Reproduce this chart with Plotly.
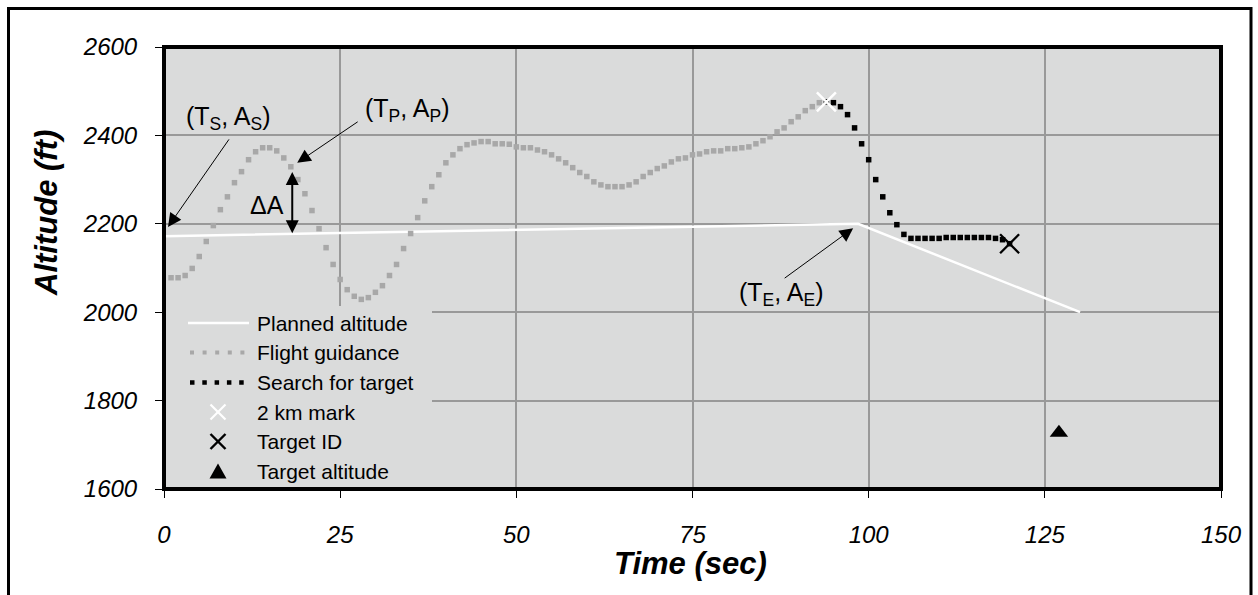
import plotly.graph_objects as go

# ---------------- data ----------------
t_guidance = list(range(1, 95))
alt_guidance = [
    2078, 2078, 2083, 2099, 2126, 2160, 2196, 2232, 2261, 2293,
    2318, 2345, 2363, 2372, 2372, 2365, 2349, 2329, 2300, 2268,
    2230, 2189, 2146, 2108, 2074, 2051, 2036, 2029, 2033, 2045,
    2060, 2083, 2108, 2144, 2178, 2214, 2252, 2284, 2311, 2338,
    2356, 2370, 2379, 2383, 2386, 2386, 2381, 2381, 2380, 2374,
    2372, 2372, 2367, 2363, 2356, 2347, 2338, 2327, 2316, 2307,
    2295, 2288, 2284, 2284, 2284, 2288, 2295, 2307, 2316, 2325,
    2331, 2340, 2347, 2349, 2356, 2358, 2363, 2365, 2365, 2370,
    2370, 2372, 2374, 2381, 2388, 2397, 2408, 2417, 2431, 2442,
    2456, 2465, 2474, 2476,
]
t_search = list(range(94, 121))
alt_search = [
    2476, 2474, 2465, 2447, 2417, 2381, 2345, 2300, 2261, 2225,
    2198, 2176, 2167, 2167, 2167, 2167, 2167, 2169, 2169, 2169,
    2169, 2169, 2169, 2169, 2167, 2164, 2155,
]
t_planned = [0, 98.5, 130]
alt_planned = [2172, 2200, 2000]
t_2km, alt_2km = [94], [2476]
t_target_id, alt_target_id = [120], [2155]
t_target_alt, alt_target_alt = [127], [1727]

x_ticks = [0, 25, 50, 75, 100, 125, 150]
y_ticks = [1600, 1800, 2000, 2200, 2400, 2600]

legend_labels = ["Planned altitude", "Flight guidance", "Search for target",
                 "2 km mark", "Target ID", "Target altitude"]

# ---------------- layout geometry ----------------
W, H = 1258, 595
L, R, T, B = 164, 1221, 47, 489
PW, PH = R - L, B - T


def px(x):
    return (x - L) / PW


def py(y):
    return (B - y) / PH


FONT = "Liberation Sans"

fig = go.Figure()

fig.add_trace(go.Scatter(x=t_planned, y=alt_planned, mode="lines",
                         line=dict(color="white", width=2.5),
                         name=legend_labels[0], showlegend=False))
fig.add_trace(go.Scatter(x=t_guidance, y=alt_guidance, mode="markers",
                         marker=dict(symbol="square", size=5.5, color="#a8a8a8",
                                     line=dict(width=0)),
                         name=legend_labels[1], showlegend=False))
fig.add_trace(go.Scatter(x=t_search, y=alt_search, mode="markers",
                         marker=dict(symbol="square", size=5.5, color="black",
                                     line=dict(width=0)),
                         name=legend_labels[2], showlegend=False))
fig.add_trace(go.Scatter(x=t_2km, y=alt_2km, mode="markers",
                         marker=dict(symbol="x-thin-open", size=19, color="white",
                                     line=dict(width=2.5, color="white")),
                         name=legend_labels[3], showlegend=False))
fig.add_trace(go.Scatter(x=t_target_id, y=alt_target_id, mode="markers",
                         marker=dict(symbol="x-thin-open", size=19, color="black",
                                     line=dict(width=2.3, color="black")),
                         name=legend_labels[4], showlegend=False))
fig.add_trace(go.Scatter(x=t_target_alt, y=alt_target_alt, mode="markers",
                         marker=dict(symbol="triangle-up", size=16, color="black",
                                     line=dict(width=0)),
                         name=legend_labels[5], showlegend=False))

shapes = []
# legend background (covers gridlines)
shapes.append(dict(type="rect", xref="paper", yref="paper", layer="above",
                   x0=px(166), x1=px(432), y0=py(306), y1=py(487),
                   fillcolor="#dadbdb", line=dict(width=0)))
rows_y = [323, 352.5, 382.5, 412, 441.5, 471]
# legend samples
shapes.append(dict(type="line", xref="paper", yref="paper", layer="above",
                   x0=px(188), x1=px(249), y0=py(rows_y[0]), y1=py(rows_y[0]),
                   line=dict(color="white", width=2.5)))
shapes.append(dict(type="line", xref="paper", yref="paper", layer="above",
                   x0=px(190), x1=px(245), y0=py(rows_y[1]), y1=py(rows_y[1]),
                   line=dict(color="#a8a8a8", width=4, dash="4px,8.6px")))
shapes.append(dict(type="line", xref="paper", yref="paper", layer="above",
                   x0=px(190), x1=px(244.5), y0=py(rows_y[2]), y1=py(rows_y[2]),
                   line=dict(color="black", width=4.5, dash="4.5px,7.8px")))
cx = 218
for row, col, lw in [(3, "white", 2.2), (4, "black", 2.4)]:
    yc = rows_y[row]
    s = 7.5
    shapes.append(dict(type="line", xref="paper", yref="paper", layer="above",
                       x0=px(cx - s), x1=px(cx + s), y0=py(yc - s), y1=py(yc + s),
                       line=dict(color=col, width=lw)))
    shapes.append(dict(type="line", xref="paper", yref="paper", layer="above",
                       x0=px(cx - s), x1=px(cx + s), y0=py(yc + s), y1=py(yc - s),
                       line=dict(color=col, width=lw)))
yc = rows_y[5]
shapes.append(dict(type="path", xref="paper", yref="paper", layer="above",
                   path="M {} {} L {} {} L {} {} Z".format(
                       px(cx - 8.5), py(yc + 7.5), px(cx + 8.5), py(yc + 7.5),
                       px(cx), py(yc - 7.5)),
                   fillcolor="black", line=dict(width=0)))
# plot area border
shapes.append(dict(type="rect", xref="paper", yref="paper", layer="above",
                   x0=0, x1=1, y0=0, y1=1, line=dict(color="black", width=4)))
# outer chart frame
shapes.append(dict(type="rect", xref="paper", yref="paper", layer="above",
                   x0=px(8.5), x1=px(1251), y0=py(600), y1=py(8.5),
                   line=dict(color="black", width=3)))

ann = []
for i, lab in enumerate(legend_labels):
    ann.append(dict(xref="paper", yref="paper", x=px(255), y=py(rows_y[i]),
                    xanchor="left", yanchor="middle", text=lab, showarrow=False,
                    font=dict(family=FONT, size=21, color="black")))

lab_font = dict(family=FONT, size=25, color="black")
ann += [
    dict(x=9.1, y=2439, text="(T<sub>S</sub>, A<sub>S</sub>)", showarrow=False,
         xanchor="center", yanchor="middle", font=lab_font),
    dict(x=34.6, y=2457, text="(T<sub>P</sub>, A<sub>P</sub>)", showarrow=False,
         xanchor="center", yanchor="middle", font=lab_font),
    dict(x=14.6, y=2243, text="ΔA", showarrow=False,
         xanchor="center", yanchor="middle", font=lab_font),
    dict(x=87.7, y=2041, text="(T<sub>E</sub>, A<sub>E</sub>)", showarrow=False,
         xanchor="center", yanchor="middle", font=lab_font),
]
arrow = dict(text="", showarrow=True, arrowhead=2, arrowsize=2.7, arrowwidth=1,
             arrowcolor="black")
ann.append(dict(arrow, x=0.57, y=2193, ax=62, ay=-89))
ann.append(dict(arrow, x=18.9, y=2338, ax=62, ay=-42))
ann.append(dict(arrow, x=97.8, y=2190, ax=-70, ay=51))
ann.append(dict(text="", showarrow=True, x=18.2, y=2317, ax=18.2, ay=2175,
                axref="x", ayref="y", arrowhead=2, startarrowhead=2,
                arrowside="end+start", arrowsize=1.3, startarrowsize=1.3,
                arrowwidth=2, arrowcolor="black"))
# axis titles
title_font = dict(family=FONT, size=31, color="black", weight="bold", style="italic")
ann.append(dict(xref="paper", yref="paper", x=px(46), y=py(213), text="Altitude (ft)",
                xanchor="center", yanchor="middle",
                textangle=-90, showarrow=False, font=title_font))
ann.append(dict(xref="paper", yref="paper", x=px(690), y=py(563), text="Time (sec)",
                xanchor="center", yanchor="middle",
                showarrow=False, font=title_font))

tick_font = dict(family=FONT, size=24, color="black", style="italic")
fig.update_layout(
    width=W, height=H,
    margin=dict(l=L, r=W - R, t=T, b=H - B, pad=0),
    paper_bgcolor="white",
    plot_bgcolor="#dadbdb",
    showlegend=False,
    shapes=shapes,
    annotations=ann,
    xaxis=dict(range=[0, 150], tickvals=x_ticks, ticktext=[str(v) for v in x_ticks],
               showgrid=True, gridcolor="#999999", gridwidth=1.5, zeroline=False,
               ticks="outside", ticklen=8, tickcolor="black", tickwidth=1,
               tickfont=tick_font, ticklabelstandoff=16, showline=False, fixedrange=True),
    yaxis=dict(range=[1600, 2600], tickvals=y_ticks, ticktext=[str(v) for v in y_ticks],
               showgrid=True, gridcolor="#999999", gridwidth=1.5, zeroline=False,
               ticks="outside", ticklen=8, tickcolor="black", tickwidth=1,
               tickfont=tick_font, ticklabelstandoff=13, showline=False, fixedrange=True),
)

fig.write_html("out.html")
